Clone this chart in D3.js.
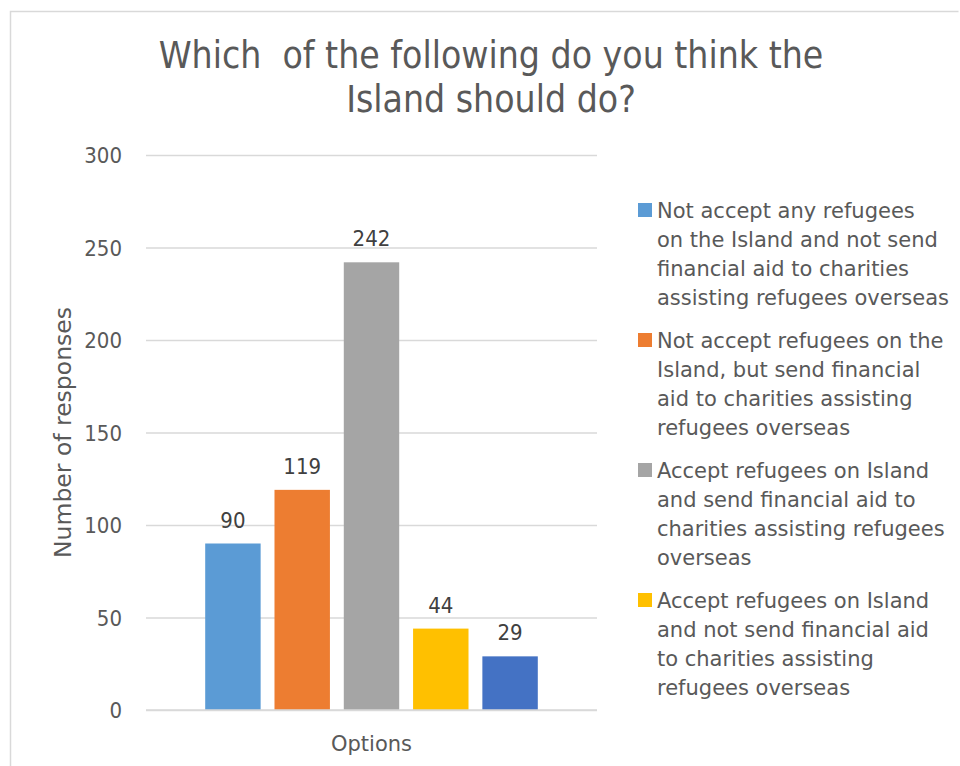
<!DOCTYPE html>
<html>
<head>
<meta charset="utf-8">
<script src="https://cdn.jsdelivr.net/npm/d3@7"></script>
<style>
  html, body { margin: 0; padding: 0; background: #fff; }
  text { font-family: "DejaVu Sans", sans-serif; }
  .cond, .cond text { font-family: "DejaVu Sans Condensed", "DejaVu Sans", sans-serif; }
</style>
</head>
<body>
<svg id="chart" width="960" height="766"></svg>
<script>
const titleLines = ["Which  of the following do you think the", "Island should do?"];
const category = "Options";
const seriesNames = [
  "Not accept any refugees on the Island and not send financial aid to charities assisting refugees overseas",
  "Not accept refugees on the Island, but send financial aid to charities assisting refugees overseas",
  "Accept refugees on Island and send financial aid to charities assisting refugees overseas",
  "Accept refugees on Island and not send financial aid to charities assisting refugees overseas",
  "Other"
];
const legendLines = [
  ["Not accept any refugees", "on the Island and not send", "financial aid to charities", "assisting refugees overseas"],
  ["Not accept refugees on the", "Island, but send financial", "aid to charities assisting", "refugees overseas"],
  ["Accept refugees on Island", "and send financial aid to", "charities assisting refugees", "overseas"],
  ["Accept refugees on Island", "and not send financial aid", "to charities assisting", "refugees overseas"]
];
const values = [90, 119, 242, 44, 29];
const colors = ["#5b9bd5", "#ed7d31", "#a5a5a5", "#ffc000", "#4472c4"];
const yTicks = [0, 50, 100, 150, 200, 250, 300];
const yTitle = "Number of responses";

const svg = d3.select("#chart");

// chart border
svg.append("path")
  .attr("d", "M10.5,766 L10.5,11.5 L958.5,11.5")
  .attr("fill", "none").attr("stroke", "#d9d9d9").attr("stroke-width", 1.5);

const plot = { left: 146, right: 597, top: 155, bottom: 710 };

const y = d3.scaleLinear().domain([0, 300]).range([plot.bottom, plot.top]);
const x0 = d3.scaleBand().domain([category]).range([plot.left, plot.right]).paddingOuter(0.178).paddingInner(0);
const x1 = d3.scaleBand().domain(d3.range(values.length)).range([0, x0.bandwidth()]).paddingInner(0.2).paddingOuter(0);

// gridlines
const yAxis = d3.axisLeft(y).tickValues(yTicks).tickSize(-(plot.right - plot.left)).tickPadding(24);
const gy = svg.append("g").attr("class", "cond").attr("transform", `translate(${plot.left},0)`).call(yAxis);
gy.attr("font-family", null).attr("font-size", null);
gy.select(".domain").remove();
gy.selectAll(".tick line").attr("stroke", "#d9d9d9").attr("stroke-width", 1.5);
gy.selectAll(".tick text").attr("fill", "#595959")
  .style("font-size", "22px")
  .attr("x", -24).attr("dy", "0.35em");

// bars
const g = svg.append("g").attr("transform", `translate(${x0(category)},0)`);
g.selectAll("rect").data(values).join("rect")
  .attr("x", (d, i) => x1(i))
  .attr("width", x1.bandwidth())
  .attr("y", d => y(d))
  .attr("height", d => y(0) - y(d))
  .attr("fill", (d, i) => colors[i]);

g.selectAll("text.lbl").data(values).join("text")
  .attr("class", "lbl cond")
  .attr("x", (d, i) => x1(i) + x1.bandwidth() / 2)
  .attr("y", d => y(d) - 16)
  .attr("text-anchor", "middle")
  .attr("fill", "#404040")
  .style("font-size", "22px")
  .text(d => d);

// baseline
svg.append("line")
  .attr("x1", plot.left).attr("x2", plot.right)
  .attr("y1", y(0)).attr("y2", y(0))
  .attr("stroke", "#d9d9d9").attr("stroke-width", 1.5);

// x category label
svg.append("text")
  .attr("x", (plot.left + plot.right) / 2)
  .attr("y", 751)
  .attr("text-anchor", "middle")
  .attr("fill", "#595959")
  .style("font-size", "21px")
  .text(category);

// y title
svg.append("text")
  .attr("transform", `translate(71,${(plot.top + plot.bottom) / 2}) rotate(-90)`)
  .attr("text-anchor", "middle")
  .attr("fill", "#595959")
  .style("font-size", "23.5px")
  .text(yTitle);

// title
svg.append("text")
  .attr("class", "cond")
  .attr("x", 491)
  .attr("text-anchor", "middle")
  .attr("fill", "#595959")
  .style("font-size", "37px")
  .selectAll("tspan").data(titleLines).join("tspan")
  .attr("x", 491)
  .attr("y", (d, i) => 68 + i * 44)
  .style("white-space", "pre")
  .text(d => d);

// legend
const leg = svg.append("g");
legendLines.forEach((lines, i) => {
  const top = 211 + i * 130;
  leg.append("rect")
    .attr("x", 638).attr("y", top - 8)
    .attr("width", 14).attr("height", 14)
    .attr("fill", colors[i]);
  const t = leg.append("text")
    .attr("fill", "#595959")
    .style("font-size", "21px");
  t.selectAll("tspan").data(lines).join("tspan")
    .attr("x", 657)
    .attr("y", (d, j) => top + 7 + j * 29)
    .text(d => d);
});
</script>
</body>
</html>
